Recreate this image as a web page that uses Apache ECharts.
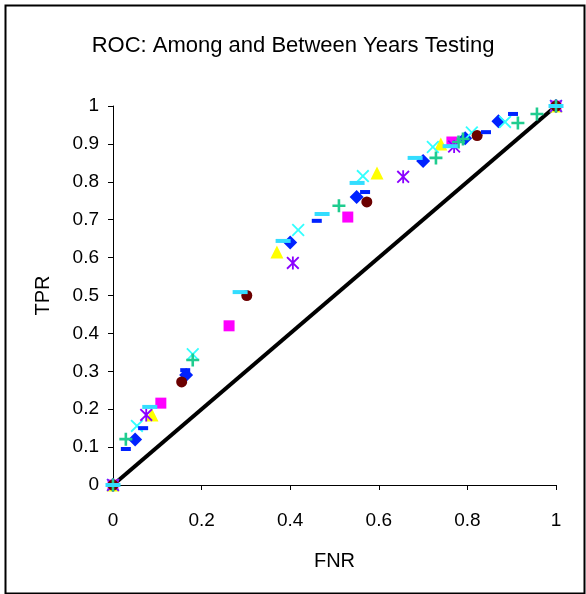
<!DOCTYPE html>
<html>
<head>
<meta charset="utf-8">
<script src="https://cdn.jsdelivr.net/npm/echarts@6/dist/echarts.min.js"></script>
<style>
html,body{margin:0;padding:0;background:#fff;}
#chart{width:586px;height:594px;}
</style>
</head>
<body>
<div id="chart"></div>
<script>
// ---- data (FNR, TPR) ----
var diamondPts = [[0,0],[0.05,0.12],[0.165,0.29],[0.40,0.64],[0.55,0.76],[0.70,0.855],[0.795,0.915],[0.87,0.96],[1,1]];
var squarePts = [[0,0],[0.108,0.216],[0.262,0.42],[0.53,0.707],[0.765,0.905],[1,1]];
var trianglePts = [[0,0],[0.088,0.185],[0.37,0.615],[0.596,0.823],[0.74,0.9],[1,1]];
var xPts = [[0,0],[0.054,0.156],[0.18,0.345],[0.418,0.673],[0.564,0.815],[0.722,0.892],[0.81,0.93],[0.885,0.958],[1,1]];
var starPts = [[0,0],[0.075,0.185],[0.406,0.586],[0.655,0.813],[0.77,0.893],[1,1]];
var circlePts = [[0,0],[0.155,0.272],[0.302,0.50],[0.573,0.747],[0.822,0.922],[1,1]];
var plusPts = [[0,0],[0.029,0.121],[0.18,0.33],[0.51,0.737],[0.729,0.863],[0.78,0.905],[0.79,0.913],[0.914,0.955],[0.957,0.979],[1,1]];
var shortDashPts = [[0,0],[0.029,0.095],[0.068,0.15],[0.163,0.303],[0.46,0.697],[0.569,0.773],[0.842,0.931],[0.903,0.979],[1,1]];
var longDashPts = [[0,0],[0.083,0.206],[0.287,0.509],[0.384,0.644],[0.472,0.715],[0.551,0.797],[0.682,0.863],[0.761,0.894],[1,1]];
var diagonalPts = [[0,0],[1,1]];
var xTicks = [0,0.2,0.4,0.6,0.8,1];
var yTicks = [0,0.1,0.2,0.3,0.4,0.5,0.6,0.7,0.8,0.9,1];

var FONT = '"Liberation Sans", Arial, sans-serif';
var PLUS = 'path://M4,0H6V4H10V6H6V10H4V6H0V4H4Z';
var XSYM = 'path://M0,1L1,0L5,4L9,0L10,1L6,5L10,9L9,10L5,6L1,10L0,9L4,5Z';
var STAR = 'path://M0,1L1,0L5,4L9,0L10,1L6,5L10,9L9,10L5,6L1,10L0,9L4,5Z M4.3,0H5.7V10H4.3Z';

function sc(name, data, symbol, size, color) {
  return {
    name: name, type: 'scatter', data: data, symbol: symbol, symbolSize: size,
    itemStyle: {color: color, opacity: 1}, silent: true, animation: false
  };
}

var chart = echarts.init(document.getElementById('chart'), null, {renderer: 'canvas'});
chart.setOption({
  animation: false,
  backgroundColor: '#ffffff',
  title: {
    text: 'ROC: Among and Between Years Testing',
    left: 'center', top: 30,
    textStyle: {fontFamily: FONT, fontSize: 22, fontWeight: 'normal', color: '#000'}
  },
  grid: {left: 113, right: 30, top: 106, bottom: 109, containLabel: false},
  xAxis: {
    type: 'value', min: 0, max: 1, interval: 0.2,
    name: 'FNR', nameLocation: 'middle', nameGap: 66,
    nameTextStyle: {fontFamily: FONT, fontSize: 20, color: '#000'},
    axisLine: {lineStyle: {color: '#000', width: 1}},
    axisTick: {show: true, length: 5, lineStyle: {color: '#000'}},
    axisLabel: {fontFamily: FONT, fontSize: 19, color: '#000', margin: 26,
      formatter: function(v){ return xTicks.indexOf(Math.round(v*10)/10) >= 0 ? String(Math.round(v*10)/10) : ''; }},
    splitLine: {show: false}
  },
  yAxis: {
    type: 'value', min: 0, max: 1, interval: 0.1,
    name: 'TPR', nameLocation: 'middle', nameGap: 60,
    nameTextStyle: {fontFamily: FONT, fontSize: 20, color: '#000'},
    axisLine: {show: true, lineStyle: {color: '#000', width: 1}},
    axisTick: {show: true, length: 5, lineStyle: {color: '#000'}},
    axisLabel: {fontFamily: FONT, fontSize: 19, color: '#000', margin: 14,
      formatter: function(v){ return yTicks.indexOf(Math.round(v*10)/10) >= 0 ? String(Math.round(v*10)/10) : ''; }},
    splitLine: {show: false}
  },
  graphic: [{
    type: 'rect', left: 3, top: 3, shape: {width: 579, height: 588},
    style: {fill: 'none', stroke: '#000', lineWidth: 2}, silent: true, z: 100
  }],
  series: [
    {name: 'diagonal', type: 'line', data: diagonalPts, showSymbol: false, symbol: 'none',
     lineStyle: {color: '#000', width: 4}, silent: true, animation: false, z: 1},
    sc('s1', diamondPts, 'diamond', 14, '#0022ff'),
    sc('s2', squarePts, 'rect', 11, '#ff00ff'),
    sc('s3', trianglePts, 'triangle', 13, '#ffff00'),
    sc('s4', xPts, XSYM, 13, '#33ffff'),
    sc('s5', starPts, STAR, 13, '#8a00ff'),
    sc('s6', circlePts, 'circle', 11, '#6b0000'),
    sc('s7', plusPts, PLUS, 13, '#1fcc8f'),
    sc('s8', shortDashPts, 'rect', [10, 4], '#0022ff'),
    sc('s9', longDashPts, 'rect', [15, 4], '#33ddff')
  ]
});
</script>
</body>
</html>
